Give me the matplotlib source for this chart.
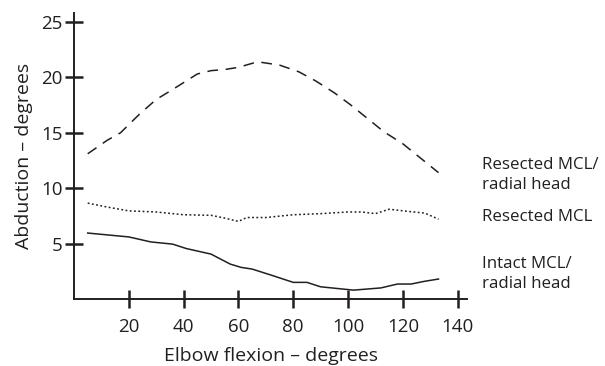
import matplotlib
matplotlib.use("Agg")
import matplotlib.pyplot as plt

# Data
resected_rh_x = [5, 12, 17, 24, 30, 36, 45, 50, 55, 60, 67, 75, 82, 88, 95, 101, 107, 113, 120, 126, 133]
resected_rh_y = [13.1, 14.3, 15.0, 16.7, 18.0, 18.9, 20.3, 20.6, 20.7, 20.9, 21.4, 21.1, 20.5, 19.7, 18.6, 17.5, 16.3, 15.1, 14.0, 12.8, 11.4]

resected_x = [5, 12, 20, 30, 40, 50, 55, 60, 63, 70, 80, 90, 100, 105, 110, 115, 122, 128, 133]
resected_y = [8.65, 8.3, 7.95, 7.85, 7.6, 7.55, 7.3, 7.0, 7.35, 7.35, 7.6, 7.7, 7.85, 7.85, 7.7, 8.1, 7.9, 7.75, 7.2]

intact_x = [5, 20, 28, 36, 41, 50, 57, 61, 65, 72, 80, 85, 90, 96, 102, 112, 118, 123, 128, 133]
intact_y = [5.95, 5.6, 5.15, 4.95, 4.55, 4.05, 3.15, 2.85, 2.7, 2.15, 1.5, 1.5, 1.1, 0.95, 0.8, 1.0, 1.35, 1.35, 1.6, 1.8]

series_labels = ["Resected MCL/\nradial head", "Resected MCL", "Intact MCL/\nradial head"]
x_ticks = [20, 40, 60, 80, 100, 120, 140]
y_ticks = [5, 10, 15, 20, 25]

plt.rcParams['font.family'] = ['Open Sans', 'DejaVu Sans']
ink = '#231f20'

fig = plt.figure(figsize=(6.05, 3.66), dpi=100)
ax = fig.add_axes([74/605, 1-299/366, 393/605, 286/366])

ax.plot(resected_rh_x, resected_rh_y, color=ink, lw=1.1, dashes=(7, 5))
ax.plot(resected_x, resected_y, color=ink, lw=1.1, dashes=(1.2, 1.6))
ax.plot(intact_x, intact_y, color=ink, lw=1.1)

ax.set_xlim(0, 143.4)
ax.set_ylim(0, 25.8)
for s in ['top', 'right']:
    ax.spines[s].set_visible(False)
for s in ['left', 'bottom']:
    ax.spines[s].set_linewidth(1.4)
    ax.spines[s].set_color(ink)

ax.set_xticks(x_ticks)
ax.set_yticks(y_ticks)
ax.tick_params(axis='both', direction='inout', length=13, width=1.8, color=ink,
               labelsize=13.5, labelcolor=ink)
ax.tick_params(axis='y', pad=1.5)
ax.tick_params(axis='x', pad=7)

ax.set_xlabel("Elbow flexion – degrees", fontsize=14, color=ink, labelpad=8)
ax.set_ylabel("Abduction – degrees", fontsize=14, color=ink, labelpad=6)

label_y = [175, 217, 274]
for lab, py in zip(series_labels, label_y):
    fig.text(482/605, 1-py/366, lab, fontsize=12.2, color=ink, va='center', ha='left',
             linespacing=1.3)

fig.savefig("out.png", dpi=100)
